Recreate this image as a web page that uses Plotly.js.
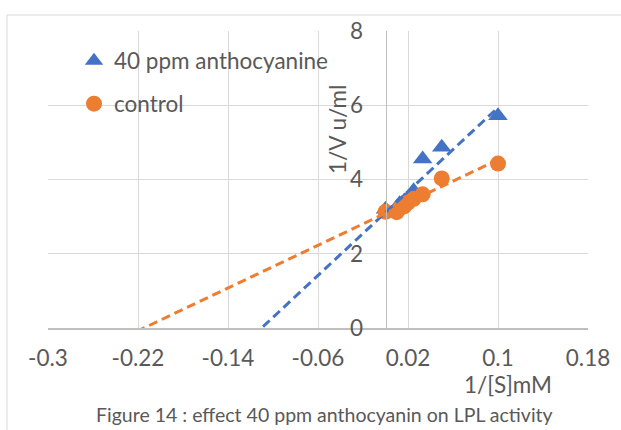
<!DOCTYPE html>
<html>
<head>
<meta charset="utf-8">
<script src="https://cdn.plot.ly/plotly-3.0.1.min.js"></script>
<style>html,body{margin:0;padding:0;background:#fff;}#chart{width:621px;height:430px;}</style>
</head>
<body>
<div id="chart"></div>
<script>
// ---- data ----
const invS = [0.0, 0.01, 0.0125, 0.0167, 0.02, 0.025, 0.033, 0.05, 0.1];
const invV_anthocyanine = [3.2, 3.25, 3.35, 3.42, 3.5, 3.7, 4.55, 4.87, 5.72];
const invV_control = [3.13, 3.12, 3.22, 3.28, 3.38, 3.48, 3.6, 4.03, 4.43];
const seriesNames = ['40 ppm anthocyanine', 'control'];
const xTickVals = [-0.3, -0.22, -0.14, -0.06, 0.02, 0.1, 0.18];
const xTickText = ['-0.3', '-0.22', '-0.14', '-0.06', '0.02', '0.1', '0.18'];
const yTickVals = [0, 2, 4, 6, 8];
const yTickText = ['0', '2', '4', '6', '8'];
const xTitle = '1/[S]mM';
const yTitle = '1/V u/ml';
const caption = 'Figure 14 : effect 40 ppm anthocyanin on LPL activity';

// ---- linear trendline (least squares), extended backward to the axis start ----
function fit(xs, ys) {
  const n = xs.length;
  const mx = xs.reduce((a, b) => a + b, 0) / n;
  const my = ys.reduce((a, b) => a + b, 0) / n;
  let sxy = 0, sxx = 0;
  for (let i = 0; i < n; i++) { sxy += (xs[i] - mx) * (ys[i] - my); sxx += (xs[i] - mx) ** 2; }
  const b = sxy / sxx;
  return { a: my - b * mx, b: b };
}
const xStart = xTickVals[0];
const xEnd = Math.max(...invS);
function trend(ys) {
  const f = fit(invS, ys);
  return { x: [xStart, xEnd], y: [f.a + f.b * xStart, f.a + f.b * xEnd] };
}
const tBlue = trend(invV_anthocyanine);
const tOrange = trend(invV_control);

const BLUE = '#4472C4', ORANGE = '#ED7D31', TXT = '#595959', GRID = '#D9D9D9', AX = '#BFBFBF';
const FONT = 'Lato, "Open Sans", sans-serif';

const traces = [
  { x: invS, y: invV_anthocyanine, name: seriesNames[0], mode: 'markers', type: 'scatter',
    marker: { symbol: 'triangle-up', size: 17, color: BLUE }, legend: 'legend', cliponaxis: false },
  { x: invS, y: invV_control, name: seriesNames[1], mode: 'markers', type: 'scatter',
    marker: { symbol: 'circle', size: 16, color: ORANGE }, legend: 'legend2', cliponaxis: false },
  { x: tBlue.x, y: tBlue.y, mode: 'lines', type: 'scatter', showlegend: false, hoverinfo: 'skip',
    line: { color: BLUE, width: 3, dash: '9px,5px' } },
  { x: tOrange.x, y: tOrange.y, mode: 'lines', type: 'scatter', showlegend: false, hoverinfo: 'skip',
    line: { color: ORANGE, width: 3, dash: '9px,5px' } }
];

const L = 48, R = 33, T = 31, B = 102, W = 621, H = 430;
const pw = W - L - R, ph = H - T - B;
const px2paperX = p => (p - L) / pw;
const px2paperY = p => (H - B - p) / ph;

const layout = {
  width: W, height: H,
  margin: { l: L, r: R, t: T, b: B, pad: 0, autoexpand: false },
  paper_bgcolor: '#fff', plot_bgcolor: '#fff',
  font: { family: FONT, color: TXT, size: 22.5 },
  xaxis: {
    range: [-0.3, 0.18], tickvals: xTickVals, ticktext: xTickText, tickangle: 0, automargin: false,
    showgrid: true, gridcolor: GRID, gridwidth: 1, zeroline: false,
    showline: true, linecolor: AX, linewidth: 1.5, ticks: '',
    tickfont: { family: FONT, size: 22.5, color: TXT }, ticklabelstandoff: 9, fixedrange: true
  },
  yaxis: {
    range: [0, 8], tickvals: yTickVals, ticktext: yTickText, automargin: false,
    showgrid: true, gridcolor: GRID, gridwidth: 1, zeroline: false,
    anchor: 'free', position: 0.625, showline: true, linecolor: AX, linewidth: 1.5, ticks: '',
    tickfont: { family: FONT, size: 22.5, color: TXT }, ticklabelstandoff: 18, fixedrange: true
  },
  legend: { x: px2paperX(74), y: px2paperY(61), xanchor: 'left', yanchor: 'middle',
    bgcolor: 'rgba(0,0,0,0)', font: { family: FONT, size: 22.5, color: TXT } },
  legend2: { x: px2paperX(74), y: px2paperY(104), xanchor: 'left', yanchor: 'middle',
    bgcolor: 'rgba(0,0,0,0)', font: { family: FONT, size: 22.5, color: TXT } },
  annotations: [
    { text: yTitle, xref: 'paper', yref: 'paper', x: px2paperX(337), y: px2paperY(130), textangle: -90,
      showarrow: false, xanchor: 'center', yanchor: 'middle', font: { family: FONT, size: 22.5, color: TXT } },
    { text: xTitle, xref: 'paper', yref: 'paper', x: px2paperX(508), y: px2paperY(385),
      showarrow: false, xanchor: 'center', yanchor: 'middle', font: { family: FONT, size: 22.5, color: TXT } },
    { text: caption, xref: 'paper', yref: 'paper', x: px2paperX(324), y: px2paperY(414),
      showarrow: false, xanchor: 'center', yanchor: 'middle', font: { family: FONT, size: 19.5, color: TXT } }
  ],
  shapes: [
    { type: 'rect', xref: 'paper', yref: 'paper', x0: px2paperX(7), x1: px2paperX(640), y0: px2paperY(450), y1: px2paperY(15),
      line: { color: GRID, width: 1 }, fillcolor: 'rgba(0,0,0,0)', layer: 'below' }
  ],
  showlegend: true
};

Plotly.newPlot('chart', traces, layout, { staticPlot: true, displayModeBar: false });
</script>
</body>
</html>
